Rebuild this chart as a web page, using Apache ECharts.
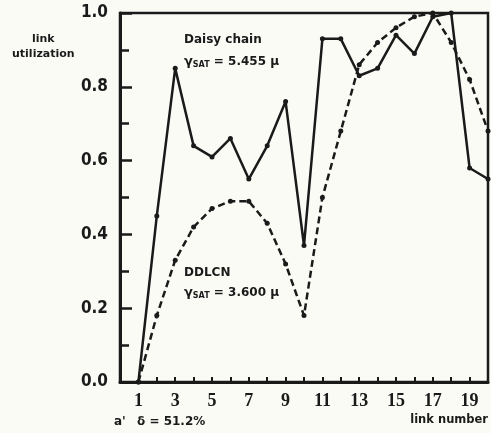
<!DOCTYPE html>
<html>
<head>
<meta charset="utf-8">
<script src="https://cdn.jsdelivr.net/npm/echarts@6/dist/echarts.min.js"></script>
<style>
  html, body { margin: 0; padding: 0; background: #fbfbf6; }
  #chart { width: 491px; height: 433px; }
</style>
</head>
<body>
<div id="chart"></div>
<script>
// link numbers 1..20
const links = [1, 2, 3, 4, 5, 6, 7, 8, 9, 10, 11, 12, 13, 14, 15, 16, 17, 18, 19, 20];
// daisy chain utilization (solid)
const daisy = [0.0, 0.45, 0.85, 0.64, 0.61, 0.66, 0.55, 0.64, 0.76, 0.37, 0.93, 0.93, 0.83, 0.85, 0.94, 0.89, 0.99, 1.0, 0.58, 0.55];
// DDLCN utilization (dashed)
const ddlcn = [0.0, 0.18, 0.33, 0.42, 0.47, 0.49, 0.49, 0.43, 0.32, 0.18, 0.5, 0.68, 0.86, 0.92, 0.96, 0.99, 1.0, 0.92, 0.82, 0.68];

const ink = '#1a1a1a';
const chart = echarts.init(document.getElementById('chart'));

const gammaRich = {
  g: { fill: ink, font: 'bold 13px "DejaVu Sans"' },
  s: { fill: ink, font: 'bold 8px "DejaVu Sans"', verticalAlign: 'bottom', padding: [6, 0, 0, 0] },
  t: { fill: ink, font: 'bold 12px "DejaVu Sans"' }
};

const option = {
  backgroundColor: '#fbfbf6',
  animation: false,
  grid: {
    left: 120, right: 3, top: 13, bottom: 51,
    show: true, borderColor: ink, borderWidth: 2.5
  },
  xAxis: {
    type: 'value', min: 0, max: 20, interval: 1,
    axisLine: { lineStyle: { color: ink, width: 3 } },
    axisTick: { inside: true, length: 5, lineStyle: { color: ink, width: 2 } },
    splitLine: { show: false },
    axisLabel: {
      margin: 10, color: ink, fontFamily: 'Liberation Serif', fontWeight: 'bold', fontSize: 18,
      formatter: v => (v % 2 === 1 ? String(v) : '')
    }
  },
  yAxis: {
    type: 'value', min: 0, max: 1, interval: 0.2,
    axisLine: { show: true, lineStyle: { color: ink, width: 3 } },
    axisTick: { show: true, inside: true, length: 12, lineStyle: { color: ink, width: 2.5 } },
    minorTick: { show: true, splitNumber: 2, length: 9, lineStyle: { color: ink, width: 2.5 } },
    splitLine: { show: false },
    axisLabel: {
      margin: 12, color: ink, fontFamily: 'DejaVu Sans Condensed', fontWeight: 'bold', fontSize: 17,
      formatter: v => v.toFixed(1)
    }
  },
  series: [
    {
      name: 'Daisy chain', type: 'line',
      data: links.map((l, i) => [l, daisy[i]]),
      symbol: 'circle', symbolSize: 5,
      itemStyle: { color: ink },
      lineStyle: { color: ink, width: 2.5 }
    },
    {
      name: 'DDLCN', type: 'line',
      data: links.map((l, i) => [l, ddlcn[i]]),
      symbol: 'circle', symbolSize: 5,
      itemStyle: { color: ink },
      lineStyle: { color: ink, width: 2.5, type: [7, 4] }
    }
  ],
  graphic: [
    { type: 'text', left: 32, top: 34, style: { text: 'link', fill: ink, font: 'bold 11px "DejaVu Sans"' } },
    { type: 'text', left: 12, top: 49, style: { text: 'utilization', fill: ink, font: 'bold 11px "DejaVu Sans"' } },
    { type: 'text', left: 184, top: 34, style: { text: 'Daisy chain', fill: ink, font: 'bold 12px "DejaVu Sans"' } },
    { type: 'text', left: 184, top: 55, style: { text: '{g|γ}{s|SAT}{t| = 5.455 μ}', rich: gammaRich } },
    { type: 'text', left: 184, top: 267, style: { text: 'DDLCN', fill: ink, font: 'bold 12px "DejaVu Sans"' } },
    { type: 'text', left: 184, top: 286, style: { text: '{g|γ}{s|SAT}{t| = 3.600 μ}', rich: gammaRich } },
    { type: 'text', left: 114, top: 416, style: { text: "a'", fill: ink, font: 'bold 12px "DejaVu Sans"' } },
    { type: 'text', left: 137, top: 416, style: { text: 'δ = 51.2%', fill: ink, font: 'bold 12px "DejaVu Sans"' } },
    { type: 'text', right: 3, top: 414, style: { text: 'link number', fill: ink, font: 'bold 11.5px "DejaVu Sans"' } }
  ]
};

chart.setOption(option);
</script>
</body>
</html>
